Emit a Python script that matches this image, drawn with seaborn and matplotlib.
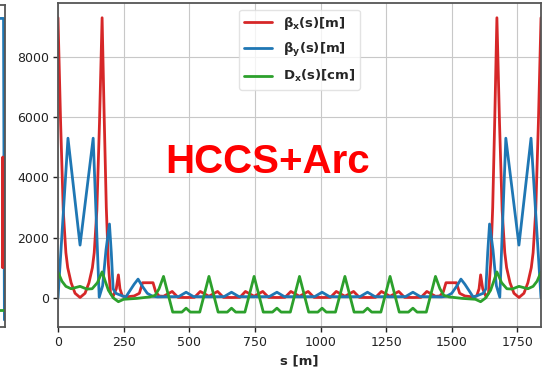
import numpy as np
import pandas as pd
import matplotlib
matplotlib.use("Agg")
import matplotlib.pyplot as plt
import seaborn as sns

# ---------------- data ----------------
# beta_x [m]
bx_s = [0, 10, 20, 30, 37, 50, 65, 84, 103, 118, 131, 138, 148, 158, 168,
        176, 184, 192, 200, 210, 222, 230, 236, 245, 260, 290, 310, 322, 362, 372, 385,
        402, 435, 457, 488, 520, 542,
        575, 608, 630, 661, 693, 714,
        747, 780, 802, 834, 865, 887,
        920, 953, 975, 1006, 1038, 1060,
        1093, 1126, 1148, 1179, 1210, 1232,
        1265, 1298, 1320, 1352, 1383, 1405,
        1438, 1455, 1468, 1478, 1518, 1530, 1550, 1580, 1595, 1604, 1610, 1618, 1630,
        1640, 1648, 1656, 1664, 1672, 1682, 1692, 1702, 1709, 1722, 1737, 1756,
        1775, 1790, 1803, 1810, 1820, 1830, 1840]
bx_v = [9300, 5800, 2900, 1500, 1000, 500, 150, 10, 150, 500, 1000, 1500, 2900, 5800, 9300,
        6000, 3000, 1100, 150, 50, 300, 760, 300, 60, 30, 60, 150, 500, 500, 200, 60,
        50, 210, 15, 10, 15, 210,
        50, 210, 15, 10, 15, 210,
        50, 210, 15, 10, 15, 210,
        50, 210, 15, 10, 15, 210,
        50, 210, 15, 10, 15, 210,
        50, 210, 15, 10, 15, 210,
        50, 60, 200, 500, 500, 150, 60, 30, 60, 300, 760, 300, 50,
        150, 1100, 3000, 6000, 9300, 5800, 2900, 1500, 1000, 500, 150, 10,
        150, 500, 1000, 1500, 2900, 5800, 9300]

# beta_y [m]
by_s = [0, 38, 84, 134, 157, 170, 183, 196, 203, 210, 220, 240, 258, 275, 290, 305, 320, 340, 360, 380,
        402, 460, 488, 516,
        575, 633, 661, 689,
        747, 805, 834, 862,
        920, 978, 1006, 1034,
        1093, 1151, 1179, 1207,
        1265, 1324, 1352, 1380,
        1438, 1460, 1480, 1500, 1520, 1535, 1550, 1565, 1582, 1600, 1620, 1630, 1637, 1644,
        1657, 1670, 1683, 1706, 1756, 1802, 1840]
by_v = [0, 5300, 1750, 5300, 20, 400, 1600, 2450, 1500, 300, 150, 80, 20, 250, 450, 620, 400, 150, 50, 30,
        35, 40, 185, 40,
        35, 40, 185, 40,
        35, 40, 185, 40,
        35, 40, 185, 40,
        35, 40, 185, 40,
        35, 40, 185, 40,
        35, 30, 50, 150, 400, 620, 450, 250, 20, 80, 150, 300, 1500, 2450,
        1600, 400, 20, 5300, 1750, 5300, 0]

# D_x [cm]
dx_s = [0, 15, 30, 50, 84, 110, 130, 150, 168, 178, 192, 210, 230, 250, 300, 350, 370, 385,
        402, 437, 472, 488, 504, 540,
        575, 610, 645, 661, 677, 712,
        747, 782, 817, 834, 850, 885,
        920, 955, 990, 1006, 1022, 1057,
        1093, 1128, 1163, 1179, 1195, 1230,
        1265, 1300, 1335, 1352, 1368, 1403,
        1438, 1455, 1470, 1490, 1540, 1590, 1610, 1630, 1648, 1662, 1672,
        1690, 1710, 1730, 1756, 1790, 1810, 1825, 1840]
dx_v = [850, 550, 380, 300, 380, 290, 300, 500, 860, 600, 250, 0, -130, -50, -20, 30, 80, 300,
        710, -475, -475, -345, -475, -475,
        710, -475, -475, -345, -475, -475,
        710, -475, -475, -345, -475, -475,
        710, -475, -475, -345, -475, -475,
        710, -475, -475, -345, -475, -475,
        710, -475, -475, -345, -475, -475,
        710, 300, 80, 30, -20, -50, -130, 0, 250, 600, 860,
        500, 300, 290, 380, 300, 380, 550, 850]

labels = [r"$\mathbf{\beta_x(s)[m]}$", r"$\mathbf{\beta_y(s)[m]}$", r"$\mathbf{D_x(s)[cm]}$"]
colors = ["#d62728", "#1f77b4", "#2ca02c"]

# tail of the neighbouring (cut-off) panel on the left
prev_s = [0.90, 0.975, 0.99]
prev_by = [9350, 9350, -760]
prev_bx_s = [0.955, 0.962, 0.97]
prev_bx = [1000, 4700, 1000]
prev_dx_s = [0.90, 1.0]
prev_dx = [-430, -430]

title_text = "HCCS+Arc"
xlabel = "s [m]"

# ---------------- figure ----------------
sns.set_style("whitegrid", {"axes.edgecolor": "#555555", "grid.color": "#c8c8c8",
                            "xtick.bottom": True, "ytick.left": True})
plt.rcParams["font.family"] = ["DejaVu Sans"]

W, H = 544, 373
fig = plt.figure(figsize=(W / 100, H / 100), dpi=100)

ax = fig.add_axes([58 / W, (H - 327) / H, (541 - 58) / W, (327 - 3) / H])

df = pd.concat([
    pd.DataFrame({"s": bx_s, "v": bx_v, "k": labels[0]}),
    pd.DataFrame({"s": by_s, "v": by_v, "k": labels[1]}),
    pd.DataFrame({"s": dx_s, "v": dx_v, "k": labels[2]}),
], ignore_index=True)

sns.lineplot(data=df, x="s", y="v", hue="k", palette=colors, estimator=None,
             sort=False, linewidth=2, ax=ax)

ax.set_xlim(0, 1840)
ax.set_ylim(-970, 9790)
ax.set_xticks([0, 250, 500, 750, 1000, 1250, 1500, 1750])
ax.set_yticks([0, 2000, 4000, 6000, 8000])
ax.tick_params(labelsize=9, length=3.5, width=1, colors="#222222", pad=3)
for sp in ax.spines.values():
    sp.set_linewidth(1.3)
ax.set_xlabel(xlabel, fontsize=9.5, fontweight="bold", labelpad=4)
ax.set_ylabel("")

leg = ax.legend(loc="upper center", prop={"weight": "bold", "size": 9.5},
                labelspacing=0.7, handlelength=2.1,
                frameon=True, framealpha=0.8, edgecolor="#dddddd", fancybox=True)
leg.set_title(None)

ax.text(0.433, 0.509, title_text, transform=ax.transAxes, ha="center", va="center",
        color="#ff0000", fontsize=29, fontweight="bold", family=["Liberation Sans"])

# cut-off neighbour panel
ax0 = fig.add_axes([-54 / W, (H - 327) / H, 59 / W, (327 - 5) / H])
ax0.plot(prev_s, prev_by, color=colors[1], linewidth=2)
ax0.plot(prev_bx_s, prev_bx, color=colors[0], linewidth=2)
ax0.plot(prev_dx_s, prev_dx, color=colors[2], linewidth=2)
ax0.set_xlim(0, 1)
ax0.set_ylim(-1000, 9800)
ax0.set_xticks([])
ax0.set_yticks([])
for sp in ax0.spines.values():
    sp.set_linewidth(1.3)

fig.savefig("out.png", dpi=100)
